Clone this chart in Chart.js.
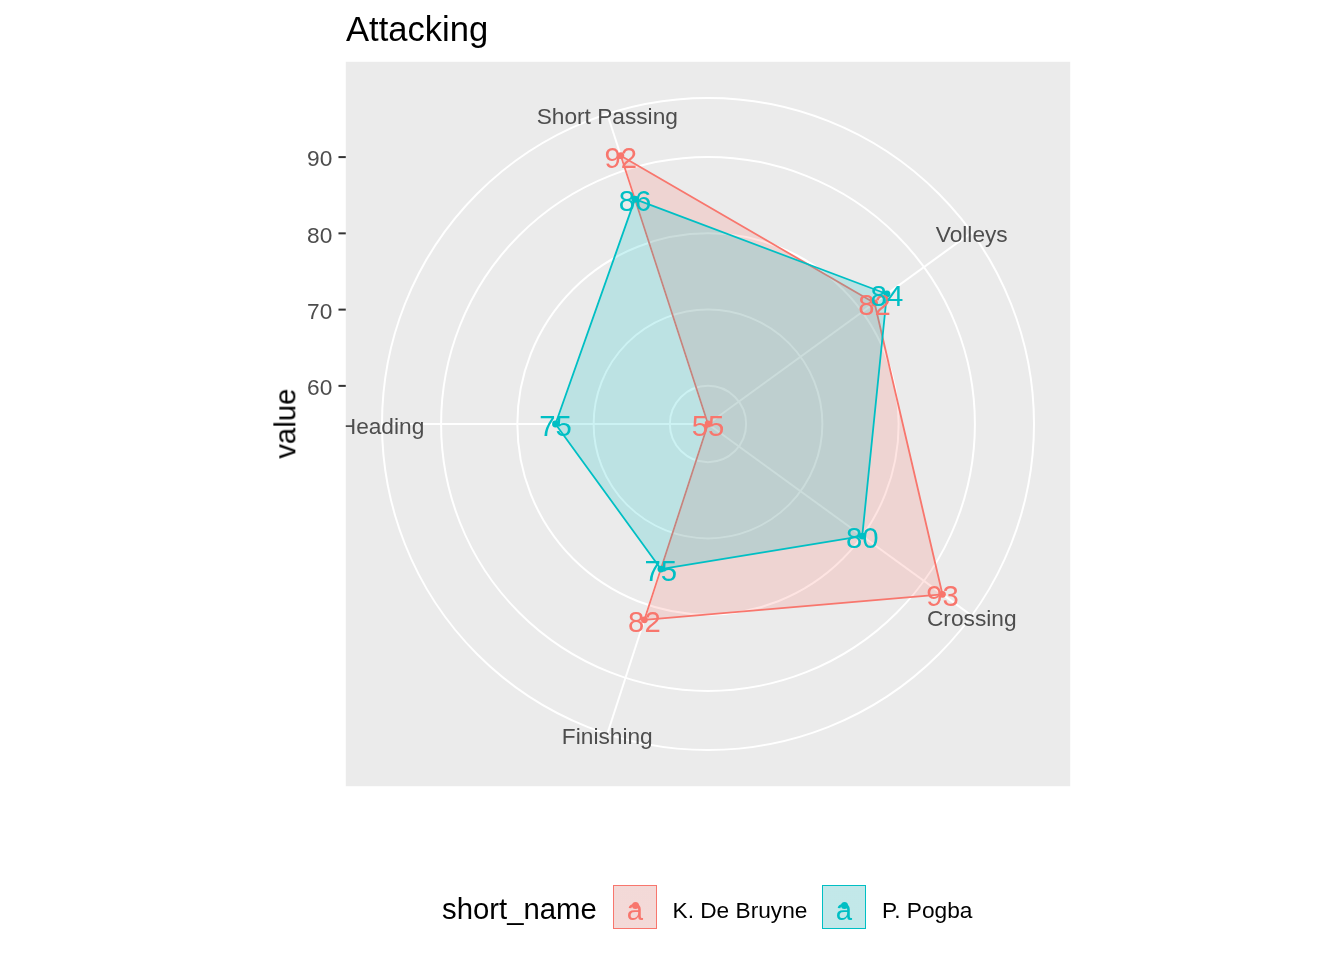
<!DOCTYPE html>
<html>
<head>
<meta charset="utf-8">
<script src="https://cdn.jsdelivr.net/npm/chart.js@4.4.1/dist/chart.umd.min.js"></script>
<style>
  body { margin: 0; background: #ffffff; font-family: "Liberation Sans", Arial, sans-serif; }
  #wrap { position: relative; width: 1344px; height: 960px; overflow: hidden; }
  #chart { position: absolute; left: 0; top: 0; }
  .t { position: absolute; white-space: nowrap; line-height: 1; }
  .key { position: absolute; box-sizing: border-box; width: 44px; height: 44px; border: 1.8px solid; }
  .dot { position: absolute; width: 7px; height: 7px; border-radius: 50%; }
</style>
</head>
<body>
<div id="wrap">
  <canvas id="chart" width="1344" height="960"></canvas>

  <div class="t" style="left:346px; top:12.4px; font-size:34.6px; color:#000;">Attacking</div>
  <div class="t" style="left:185px; top:409px; width:200px; text-align:center; font-size:29.3px; color:#000; transform:rotate(-90deg);">value</div>

  <!-- legend -->
  <div class="t" style="left:442px; top:893.5px; font-size:29.3px; color:#000;">short_name</div>
  <div class="key" style="left:613px; top:885px; border-color:#F8766D; background:linear-gradient(rgba(248,118,109,0.2), rgba(248,118,109,0.2)), #F2F2F2;"></div>
  <div class="dot" style="left:631.5px; top:902px; background:#F8766D;"></div>
  <div class="t" style="left:613px; top:895px; width:44px; text-align:center; font-size:29.3px; color:#F8766D;">a</div>
  <div class="t" style="left:672.5px; top:898.8px; font-size:22.7px; color:#000;">K. De Bruyne</div>
  <div class="key" style="left:822px; top:885px; border-color:#00BFC4; background:linear-gradient(rgba(0,191,196,0.2), rgba(0,191,196,0.2)), #F2F2F2;"></div>
  <div class="dot" style="left:840.5px; top:902px; background:#00BFC4;"></div>
  <div class="t" style="left:822px; top:895px; width:44px; text-align:center; font-size:29.3px; color:#00BFC4;">a</div>
  <div class="t" style="left:882px; top:898.8px; font-size:22.7px; color:#000;">P. Pogba</div>
</div>

<script>
// data
const categories = ['Crossing', 'Finishing', 'Heading', 'Short Passing', 'Volleys'];
const players = ['K. De Bruyne', 'P. Pogba'];
const deBruyne = [93, 82, 55, 92, 82];
const pogba = [80, 75, 75, 86, 84];
const rTicks = [60, 70, 80, 90];
const rLimits = [55, 93];

const colours = ['#F8766D', '#00BFC4'];
const fills = ['rgba(248,118,109,0.2)', 'rgba(0,191,196,0.2)'];
const font = '"Liberation Sans", Arial, sans-serif';

// ggplot maps the data to 0..0.4 of the panel and puts the outer ring at 0.45
const rOuter = rLimits[0] + (rLimits[1] - rLimits[0]) * 0.45 / 0.4;

const series = [deBruyne, pogba];
const datasets = [];
// polygons first (higher order = drawn underneath)
series.forEach((vals, i) => {
  datasets.push({
    label: players[i],
    data: vals,
    order: 3 - i,
    borderColor: colours[i],
    backgroundColor: fills[i],
    borderWidth: 1.8,
    borderJoinStyle: 'round',
    fill: 'start',
    pointRadius: 0,
    pointHoverRadius: 0
  });
});
// then the points, on top of both polygons
series.forEach((vals, i) => {
  datasets.push({
    label: players[i] + ' points',
    data: vals,
    order: 1 - i,
    showLine: false,
    fill: false,
    borderColor: 'rgba(0,0,0,0)',
    backgroundColor: 'rgba(0,0,0,0)',
    pointRadius: 3.4,
    pointBorderWidth: 0,
    pointBackgroundColor: colours[i]
  });
});

const ggPolar = {
  id: 'ggPolar',
  beforeDraw(chart) {
    const r = chart.scales.r;
    const ctx = chart.ctx;
    const half = r.drawingArea / 0.9;
    ctx.save();
    ctx.fillStyle = '#EBEBEB';
    ctx.fillRect(r.xCenter - half, r.yCenter - half, half * 2, half * 2);
    ctx.restore();
  },
  afterDraw(chart) {
    const r = chart.scales.r;
    const ctx = chart.ctx;
    const half = r.drawingArea / 0.9;
    const left = r.xCenter - half;
    ctx.save();

    // value labels on the points
    ctx.font = '29.3px ' + font;
    ctx.textAlign = 'center';
    ctx.textBaseline = 'alphabetic';
    series.forEach((vals, i) => {
      const meta = chart.getDatasetMeta(2 + i);
      ctx.fillStyle = colours[i];
      meta.data.forEach((pt, j) => {
        ctx.fillText(String(vals[j]), pt.x, pt.y + 12);
      });
    });

    // category labels, sitting on the outer ring, clipped to the panel
    ctx.save();
    ctx.beginPath();
    ctx.rect(left, r.yCenter - half, half * 2, half * 2);
    ctx.clip();
    ctx.font = '22.7px ' + font;
    ctx.fillStyle = '#4D4D4D';
    categories.forEach((c, j) => {
      const p = r.getPointPositionForValue(j, rOuter);
      ctx.fillText(c, p.x, p.y + 10.1);
    });
    ctx.restore();

    // left axis: ticks and labels
    ctx.strokeStyle = '#333333';
    ctx.lineWidth = 2;
    ctx.fillStyle = '#4D4D4D';
    ctx.font = '22.7px ' + font;
    ctx.textAlign = 'right';
    rTicks.forEach(v => {
      const y = r.yCenter - r.getDistanceFromCenterForValue(v);
      ctx.beginPath();
      ctx.moveTo(left - 7.3, y);
      ctx.lineTo(left, y);
      ctx.stroke();
      ctx.fillText(String(v), left - 13.5, y + 9.4);
    });
    ctx.restore();
  }
};

const ctx = document.getElementById('chart').getContext('2d');
new Chart(ctx, {
  type: 'radar',
  data: { labels: categories, datasets: datasets },
  options: {
    responsive: false,
    animation: false,
    devicePixelRatio: 1,
    events: [],
    layout: { padding: { left: 382, top: 98, right: 310, bottom: 210 } },
    plugins: { legend: { display: false }, tooltip: { enabled: false } },
    scales: {
      r: {
        min: rLimits[0],
        max: rOuter,
        startAngle: 126,
        afterBuildTicks: (s) => {
          s.ticks = [rLimits[0]].concat(rTicks, [rOuter]).map(v => ({ value: v }));
        },
        ticks: { display: false },
        pointLabels: { display: false },
        grid: { circular: true, color: '#FFFFFF', lineWidth: 2 },
        angleLines: { color: '#FFFFFF', lineWidth: 2 }
      }
    }
  },
  plugins: [ggPolar]
});
</script>
</body>
</html>
